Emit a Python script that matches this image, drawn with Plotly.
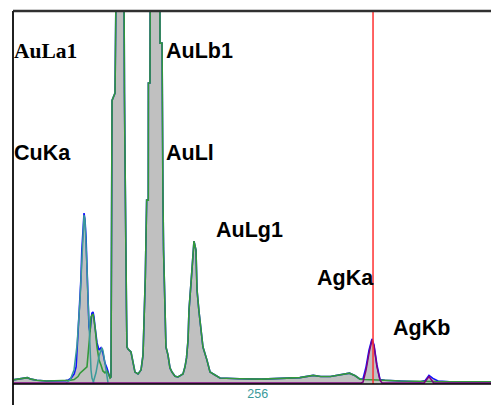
import plotly.graph_objects as go

# ---- data (channel, counts) ----
spec_ch = [0, 7, 12, 15, 19, 25, 35, 45, 55, 58, 61, 64, 66, 68, 70, 71, 72, 73, 74.3, 75.3,
           76.4, 77.4, 78.5, 79.5, 80.5, 81.6, 82.5, 83.7, 84.7, 85.8, 87.9, 90, 92, 94.1, 96.2,
           98.3, 100.4, 101.5, 102.5, 103.1, 103.6, 106.7, 107.5, 111.4, 115.5, 116.1, 116.6,
           117.2, 117.7, 118.7, 119.2, 120.3, 123.4, 125.5, 127.6, 130.8, 133.9, 136, 137, 138.4,
           139.8, 141.5, 141.6, 143.3, 143.8, 148.5, 153.3, 153.8, 155.9, 156.2, 156.9, 157.5,
           159, 160, 162.1, 164.2, 166.3, 169.5, 172.6, 177.8, 179.9, 181.5, 183.1, 184.1, 187.2,
           188.3, 189.3, 191.4, 192.5, 194.6, 196.6, 198.7, 202.9, 206.1, 211.3, 216.5, 237, 260,
           280, 300, 314, 322, 332, 342, 352, 358, 363, 366, 369.3, 372.4, 375.5, 377.6, 380.7,
           383.9, 389, 405, 426, 431, 435.1, 439.3, 444.6, 457, 478, 500]
spec_counts = [1.1, 1.3, 1.6, 1.7, 1.3, 1.0, 0.8, 0.8, 0.9, 1.1, 1.6, 2.7, 4.6, 13.7, 22.5, 28.0,
               35.9, 42.1, 45.8, 44.0, 39.4, 31.4, 22.5, 15.3, 13.9, 18.0, 19.0, 19.3, 18.0, 15.3,
               11.0, 9.1, 9.7, 8.3, 5.6, 4.3, 2.4, 1.6, 1.9, 31.9, 76, 78, 140, 200, 140, 78, 78,
               60, 39.4, 20, 9.9, 9.4, 8.6, 5.6, 3.2, 2.7, 3.75, 7.8, 15.8, 28.7, 49.3, 49.3, 80.7,
               80.7, 140, 190, 140, 91.4, 91.4, 64, 49, 36, 19, 9.9, 7.8, 4.3, 3.2, 2.1, 1.9, 2.7,
               4.6, 7.0, 11.8, 19.8, 30.6, 36.5, 38.3, 35.9, 25.2, 19.3, 15.3, 9.9, 6.4, 3.2, 2.4,
               1.6, 1.4, 1.3, 1.5, 1.7, 2.3, 2.0, 2.0, 2.4, 2.9, 2.2, 1.3, 1.3, 4.6, 9.1, 12.1,
               10.5, 5.1, 1.2, 1.0, 0.8, 0.6, 0.9, 2.3, 1.5, 0.8, 0.6, 0.6, 0.6]

# Au fit (green) in the Cu and Ag regions; elsewhere it follows the spectrum
au_cu_ch = [0, 7, 12, 15, 19, 25, 35, 45, 55, 60, 64, 68, 70.1, 77.4, 80.5, 81.6, 83.7, 85.8,
            87.9, 90, 92, 94, 96.2, 98.3, 100.4, 101.5]
au_cu_counts = [1.1, 1.3, 1.6, 1.7, 1.3, 1.0, 0.8, 0.8, 0.9, 1.0, 1.2, 2.0, 2.9, 4.6, 13.7, 18.0,
                18.8, 15.3, 9.9, 6.4, 5.1, 3.5, 3.0, 3.5, 2.4, 1.6]
au_ag_ch = [366, 372, 380, 389, 405, 426, 440, 457, 500]
au_ag_counts = [1.2, 1.2, 1.1, 1.0, 0.8, 0.7, 0.7, 0.6, 0.6]

cuka_ch = [55.4, 59.6, 63.8, 67, 70.1, 72.2, 74.3, 75.3, 76.4, 77.4, 78.5, 79.5, 80.5, 81.6, 82.6, 84.7]
cuka_counts = [0.27, 1.07, 3.75, 10.5, 22.5, 34.6, 45.3, 44, 38.6, 31.1, 22.5, 14.5, 7.8, 3.75, 1.6, 0.27]
cukb_ch = [83.7, 86.8, 90, 92, 93.1, 94.1, 96.2, 98.3, 99.4]
cukb_counts = [0.27, 3, 7.5, 9.4, 9.7, 9, 5, 1.5, 0.27]

ag_ch = [0, 364, 366.1, 369.3, 372.4, 375.5, 377.6, 380.7, 383.9, 386, 430, 435.1, 440, 500]
ag_counts = [0.27, 0.27, 0.5, 3.75, 8.3, 11.8, 10.2, 4.6, 1.0, 0.27, 0.27, 2.0, 0.27, 0.27]

labels = ["AuLa1", "AuLb1", "CuKa", "AuLl", "AuLg1", "AgKa", "AgKb"]
label_ch = [1, 160, 1, 160, 212, 318, 397.5]
label_y = [89.3, 89.3, 61.9, 61.9, 41.4, 28.4, 15.0]
marker_ch = 376.6
tick_vals = [256]
tick_text = ["256"]

# build green trace
au_ch = list(au_cu_ch)
au_counts = list(au_cu_counts)
for c, v in zip(spec_ch, spec_counts):
    if 102.5 <= c <= 363:
        au_ch.append(c)
        au_counts.append(v)
au_ch += au_ag_ch
au_counts += au_ag_counts

fig = go.Figure()
fig.add_trace(go.Scatter(x=spec_ch, y=spec_counts, mode="lines", fill="tozeroy",
                         fillcolor="#c0c0c0", line=dict(color="#1010ff", width=1.6)))
fig.add_trace(go.Scatter(x=au_ch, y=au_counts, mode="lines",
                         line=dict(color="#33993a", width=1.6)))
fig.add_trace(go.Scatter(x=cuka_ch, y=cuka_counts, mode="lines",
                         line=dict(color="#3a9a9a", width=1.5)))
fig.add_trace(go.Scatter(x=cukb_ch, y=cukb_counts, mode="lines",
                         line=dict(color="#3a9a9a", width=1.5)))
fig.add_trace(go.Scatter(x=ag_ch, y=ag_counts, mode="lines",
                         line=dict(color="#800080", width=1.5)))

for i, (t, cx, cy) in enumerate(zip(labels, label_ch, label_y)):
    fam = "Liberation Serif" if i == 0 else "Liberation Sans"
    fig.add_annotation(x=cx, y=cy, text=f"<b>{t}</b>", showarrow=False,
                       xanchor="left", yanchor="middle", xshift=-2,
                       font=dict(family=fam, size=21.5, color="black"))

shapes = [
    dict(type="line", xref="x", yref="paper", x0=marker_ch, x1=marker_ch, y0=0, y1=1,
         line=dict(color="#ff3030", width=1.5)),
    dict(type="line", xref="paper", yref="paper", x0=0, x1=1, y0=1, y1=1,
         line=dict(color="#303030", width=2.5)),
    dict(type="line", xref="paper", yref="paper", x0=0, x1=0, y0=-0.06, y1=1,
         line=dict(color="#202020", width=2)),
    dict(type="line", xref="paper", yref="paper", x0=0, x1=1, y0=0, y1=0,
         line=dict(color="#000000", width=1.5)),
]

fig.update_layout(
    width=491, height=405,
    margin=dict(l=13, r=0, t=11, b=21, autoexpand=False),
    paper_bgcolor="white", plot_bgcolor="white",
    showlegend=False,
    shapes=shapes,
    xaxis=dict(range=[0, 500], showgrid=False, zeroline=False, showline=False,
               tickvals=tick_vals, ticktext=tick_text, ticks="", automargin=False,
               tickfont=dict(family="Liberation Sans", size=12.5, color="#3a9a9a")),
    yaxis=dict(range=[0, 100], showgrid=False, zeroline=False, showline=False,
               showticklabels=False, ticks="", automargin=False),
)

fig.write_html("out.html", config={"displayModeBar": False},
               post_script="document.body.style.margin='0';document.body.style.overflow='hidden';")
